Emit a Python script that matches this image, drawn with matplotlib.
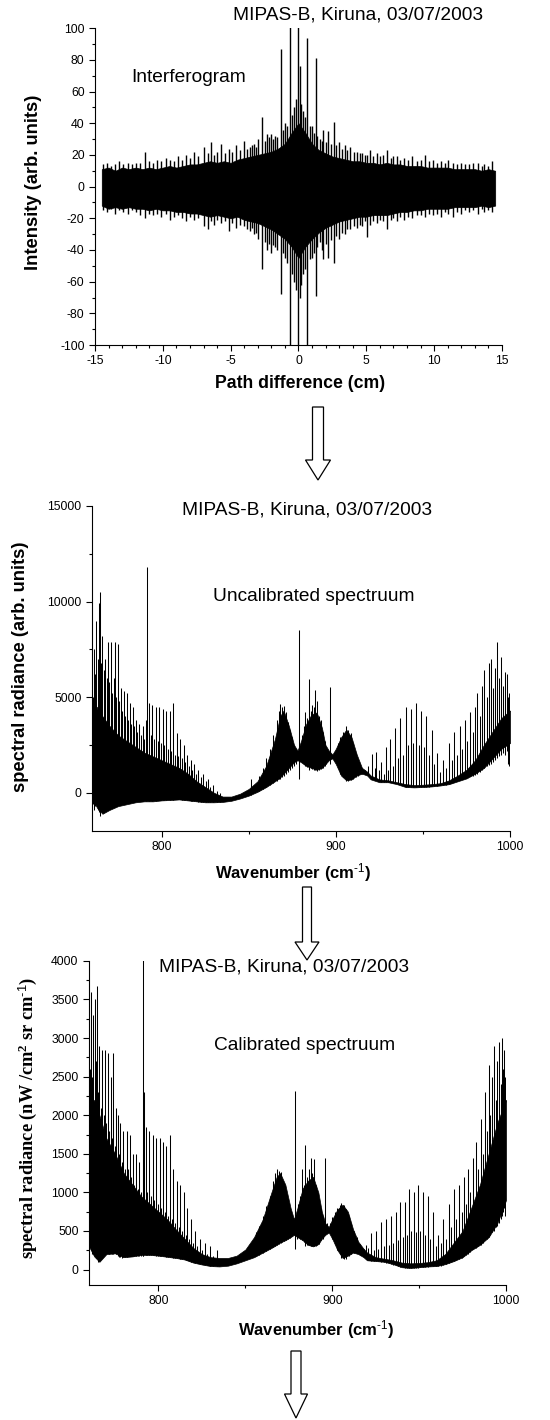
import numpy as np
import matplotlib
matplotlib.use("Agg")
import matplotlib.pyplot as plt
from matplotlib.patches import FancyArrow
from matplotlib.ticker import MultipleLocator

plt.rcParams["font.family"] = ["Liberation Sans", "DejaVu Sans"]
plt.rcParams["mathtext.fontset"] = "custom"
plt.rcParams["mathtext.rm"] = "Liberation Sans"
plt.rcParams["mathtext.default"] = "regular"
plt.rcParams["axes.unicode_minus"] = False

TITLE = "MIPAS-B, Kiruna, 03/07/2003"
NOTE_FS = 13.8
XLAB_FS = 12
YLAB_FS = 13.2
TICK_FS = 8.8

# ---- interferogram: envelope of the dense band (read every 0.5 cm) ----
ifg_x = [-14.5, -14, -13.5, -13, -12.5, -12, -11.5, -11, -10.5, -10, -9.5, -9,
         -8.5, -8, -7.5, -7, -6.5, -6, -5.5, -5, -4.5, -4, -3.5, -3, -2.5, -2,
         -1.5, -1, -0.5, 0, 0.5, 1, 1.5, 2, 2.5, 3, 3.5, 4, 4.5, 5, 5.5, 6,
         6.5, 7, 7.5, 8, 8.5, 9, 9.5, 10, 10.5, 11, 11.5, 12, 12.5, 13, 13.5,
         14, 14.5]
ifg_upper = [11, 12, 10, 12, 11, 12, 11, 12, 11, 12, 13, 12,
             13, 14, 14, 15, 16, 15, 16, 15, 17, 18, 19, 20, 21, 22,
             24, 27, 34, 40, 34, 27, 23, 21, 19, 18, 17, 16, 16, 15, 15, 14,
             15, 14, 14, 13, 13, 13, 12, 12, 12, 12, 11, 11, 11, 11, 10,
             11, 10]
ifg_lower = [-12, -14, -13, -14, -13, -14, -14, -15, -14, -15, -15, -16,
             -16, -17, -17, -18, -19, -18, -19, -20, -19, -21, -22, -23, -25, -27,
             -30, -33, -38, -45, -38, -33, -29, -26, -24, -22, -21, -20, -19, -19, -18, -18,
             -18, -17, -16, -16, -15, -15, -14, -14, -14, -14, -13, -13, -13, -13, -12,
             -13, -12]

# interferogram spikes: position, bottom, top
ifg_spk_x = [-14.4, -14.1, -13.8, -13.5, -13.2, -12.9, -12.6, -12.3, -12.0, -11.7,
             -11.3, -11.0, -10.7, -10.4, -10.1, -9.8, -9.5, -9.2, -8.9, -8.6,
             -8.3, -8.0, -7.7, -7.4, -7.0, -6.7, -6.45, -6.2, -6.0, -5.7,
             -5.4, -5.15, -4.9, -4.6, -4.3, -4.0, -3.8, -3.6, -3.4, -3.26,
             -3.1, -2.95, -2.7, -2.5, -2.35, -2.2, -2.0, -1.85, -1.72, -1.55,
             -1.31, -1.15, -1.0, -0.85, -0.65, -0.45, -0.3, -0.15, 0.0, 0.11,
             0.2, 0.3, 0.45, 0.65, 0.85, 1.0, 1.12, 1.26, 1.4, 1.55,
             1.7, 1.8, 2.0, 2.2, 2.4, 2.6, 2.8, 3.0, 3.2, 3.4,
             3.6, 3.83, 4.1, 4.3, 4.5, 4.7, 4.9, 5.05, 5.24, 5.5,
             5.8, 6.0, 6.2, 6.5, 6.8, 7.0, 7.25, 7.5, 7.8, 8.1,
             8.4, 8.7, 9.0, 9.3, 9.6, 9.9, 10.2, 10.5, 10.8, 11.0,
             11.4, 11.7, 12.0, 12.3, 12.6, 12.9, 13.2, 13.5, 13.7, 14.0,
             14.3]
ifg_spk_lo = [-15, -16, -14, -17, -15, -16, -17, -15, -16, -18,
              -20, -17, -18, -17, -19, -17, -21, -19, -18, -20,
              -22, -19, -21, -20, -25, -27, -22, -24, -21, -23,
              -22, -28, -23, -26, -24, -25, -27, -28, -26, -30,
              -29, -33, -52, -35, -40, -36, -42, -37, -38, -40,
              -68, -42, -45, -48, -110, -55, -60, -65, -110, -70,
              -62, -55, -52, -110, -46, -45, -42, -69, -38, -35,
              -40, -46, -36, -45, -34, -48, -31, -33, -29, -30,
              -27, -27, -25, -26, -24, -25, -22, -32, -24, -22,
              -23, -21, -22, -27, -21, -20, -22, -19, -21, -19,
              -20, -18, -18, -19, -17, -18, -17, -19, -16, -17,
              -19, -16, -17, -15, -16, -15, -17, -14, -16, -15,
              -16]
ifg_spk_hi = [14, 15, 13, 14, 16, 14, 15, 14, 15, 15,
              22, 16, 15, 17, 16, 18, 17, 16, 19, 17,
              20, 18, 22, 19, 25, 21, 28, 20, 22, 27,
              21, 24, 22, 26, 23, 29, 24, 25, 26, 27,
              25, 30, 44, 29, 33, 31, 33, 30, 32, 31,
              87, 36, 40, 38, 110, 45, 50, 55, 110, 76,
              52, 48, 44, 94, 38, 38, 34, 81, 32, 30,
              29, 36, 28, 35, 27, 41, 26, 28, 24, 26,
              23, 25, 22, 22, 21, 21, 20, 20, 23, 19,
              21, 19, 20, 23, 18, 19, 19, 17, 18, 17,
              19, 16, 17, 20, 16, 17, 15, 16, 15, 17,
              15, 14, 15, 14, 14, 15, 15, 13, 14, 13,
              16]

# ---- spectra: envelope knots of the dense band (cm-1) ----
spec_wn = [760, 763, 766, 770, 775, 780, 785, 790, 795, 800, 805, 810, 815, 820,
           825, 830, 835, 840, 845, 850, 855, 860, 865, 868, 870, 873, 876, 878,
           880, 883, 886, 889, 892, 894, 896, 898, 900, 903, 906, 909, 912, 915,
           918, 920, 925, 930, 935, 940, 945, 950, 955, 960, 965, 970, 975, 980,
           985, 990, 995, 1000]

unc_hi = [3500, 4500, 4000, 3500, 3000, 2700, 2400, 2100, 1900, 1700, 1500, 1300, 1000, 600,
          300, 0, -200, -200, -50, 200, 600, 1400, 2800, 4000, 4300, 3500, 2500, 2200,
          2700, 3600, 4100, 4200, 3400, 2500, 2200, 2000, 2300, 2900, 3300, 2900, 2000, 1300,
          1100, 900, 700, 650, 550, 450, 400, 420, 450, 500, 650, 900, 1200, 1700,
          2500, 3200, 3900, 4300]
unc_lo = [-300, -800, -1100, -900, -700, -600, -500, -450, -450, -400, -380, -350, -400, -450,
          -500, -500, -480, -420, -300, -150, 50, 300, 600, 800, 1000, 1300, 1600, 1700,
          1600, 1400, 1300, 1200, 1300, 1500, 1700, 1800, 1500, 900, 650, 700, 900, 1000,
          900, 700, 550, 550, 450, 300, 280, 300, 330, 380, 450, 600, 750, 1000,
          1300, 1800, 2300, 2600]

# uncalibrated spectrum: individual lines (position, bottom, top)
unc_spk_wn = [760.4, 761.0, 761.8, 762.5, 763.2, 763.8, 764.6, 765.3, 766.0, 766.8,
              767.6, 768.4, 769.2, 770.0, 770.8, 771.6, 772.4, 773.2, 774.0, 774.8,
              775.6, 776.5, 777.3, 778.1, 779.0, 779.8, 780.7, 781.6, 782.5, 783.4,
              784.3, 785.2, 786.1, 787.0, 788.0, 789.0, 790.0, 790.8, 791.6, 792.6,
              793.6, 794.6, 795.6, 796.6, 797.6, 798.6, 799.6, 800.6, 801.6, 802.6,
              803.6, 804.6, 805.6, 806.6, 807.6, 808.6, 809.6, 810.6, 811.6, 812.6,
              813.6, 814.6, 815.6, 816.6, 817.6, 818.6, 819.6, 821.0, 822.4, 823.8,
              825.2, 826.6, 828.0, 829.6, 831.5, 833.5, 851.0,
              856.0, 858.0, 860.0, 862.0, 864.0, 866.0, 867.2, 868.2, 869.2, 870.3,
              871.3, 872.4, 873.5, 874.6, 875.7, 877.0, 879.1, 880.5, 881.5, 882.5,
              883.5, 884.5, 885.5, 886.5, 887.4, 888.3, 889.3, 890.3, 891.3, 892.5,
              893.5, 894.6, 896.4, 898.0, 899.5, 901.0, 902.5, 904.0, 905.6, 907.0,
              908.5, 910.0, 911.5, 913.0, 915.0, 917.0,
              918.5, 920.9, 922.2, 923.3, 924.8, 926.2, 927.6, 929.0, 930.2, 931.3,
              932.6, 934.0, 935.4, 937.0, 938.4, 940.0, 941.5, 943.0, 944.5, 946.0,
              947.5, 949.0, 950.5, 952.0, 953.5, 955.0, 956.5, 958.0, 959.8, 961.5,
              963.2, 965.0, 966.5, 968.0, 969.5, 971.0, 972.5, 974.0, 975.5, 977.0,
              978.5, 980.0, 981.0, 982.5, 984.0, 985.0, 986.5, 988.0, 989.0, 990.5,
              991.5, 992.5, 993.5, 995.0, 996.0, 997.0, 998.0, 999.0, 999.7]
unc_spk_lo = [-600, -900, -700, -600, -900, -1000, -1200, -800, -1000, -700,
              -800, -600, -700, -800, -600, -700, -600, -700, -600, -650,
              -600, -500, -600, -550, -500, -550, -500, -450, -500, -450,
              -500, -450, -450, -450, -400, -450, -400, -450, -400, -450,
              -400, -420, -400, -420, -400, -400, -380, -400, -380, -380,
              -350, -370, -350, -360, -350, -350, -340, -350, -360, -370,
              -380, -380, -400, -420, -430, -450, -450, -470, -480, -490,
              -500, -500, -500, -500, -480, -470, -100,
              100, 200, 300, 400, 500, 600, 700, 700, 800, 900,
              1000, 1100, 1200, 1300, 1400, 1500, 730, 1600, 1500, 1400,
              1350, 1200, 1300, 1250, 1200, 1200, 1150, 1200, 1250, 1300,
              1400, 1500, 1500, 1800, 1700, 1300, 1000, 800, 600, 600,
              650, 700, 800, 900, 1000, 1000,
              1000, 700, 650, 650, 600, 550, 550, 550, 550, 550,
              520, 500, 470, 450, 400, 320, 300, 300, 290, 280,
              285, 290, 300, 300, 310, 330, 340, 360, 380, 400,
              420, 450, 500, 550, 600, 650, 700, 750, 800, 850,
              900, 950, 1000, 1100, 1200, 1300, 1400, 1450, 1500, 1600,
              1700, 1800, 1900, 2000, 2100, 2000, 2200, 1500, 1400]
unc_spk_hi = [5000, 7500, 6200, 9000, 7000, 9900, 10500, 6800, 8200, 6400,
              7000, 6000, 7900, 5800, 7900, 5200, 6000, 7900, 5000, 7800,
              4800, 5500, 4300, 5300, 4000, 5200, 3800, 4700, 3600, 4500,
              3500, 3800, 3200, 3600, 3000, 3500, 2800, 3800, 11800, 4700,
              3000, 4600, 2800, 4500, 2700, 4500, 2600, 4400, 2500, 4300,
              2300, 4300, 2200, 4700, 2000, 3100, 1900, 2800, 1800, 2500,
              1600, 2000, 1400, 1700, 1200, 1500, 1000, 1200, 800, 1000,
              600, 700, 300, 400, 100, 0, 700,
              900, 1300, 1800, 2300, 3000, 3800, 4300, 4650, 4500, 4550,
              4200, 3700, 3300, 2900, 2500, 2300, 8500, 3000, 3500, 4200,
              3900, 5960, 4300, 4600, 4500, 5350, 4800, 4000, 3800, 3200,
              2700, 2400, 5530, 2000, 2100, 2600, 2900, 3200, 3470, 3300,
              3100, 2600, 2100, 1600, 1300, 1200,
              1400, 2040, 1300, 2130, 1200, 1600, 1000, 2400, 1200, 2800,
              1400, 3400, 1800, 3900, 2000, 4500, 2500, 4400, 2600, 4700,
              2500, 4300, 2400, 4000, 2000, 3300, 1500, 2100, 1100, 1700,
              1300, 2600, 1700, 3200, 2000, 3500, 2300, 3800, 2700, 4200,
              3200, 4500, 5200, 4000, 5600, 6400, 5000, 6800, 7000, 5500,
              6500, 7900, 6000, 7100, 5600, 6300, 6200, 5000, 5200]

cal_hi = [2000, 2200, 2000, 1700, 1500, 1250, 1100, 950, 850, 750, 650, 520, 400, 280,
          200, 160, 150, 150, 180, 260, 420, 650, 1000, 1200, 1250, 1100, 800, 650,
          800, 1050, 1150, 1200, 1000, 750, 600, 550, 650, 780, 840, 750, 520, 360,
          270, 220, 160, 140, 120, 90, 80, 85, 95, 120, 200, 350, 500, 800,
          1100, 1500, 1900, 2200]
cal_lo = [300, 170, 100, 200, 210, 160, 170, 190, 190, 180, 165, 150, 130, 90,
          65, 45, 40, 50, 80, 120, 160, 220, 280, 320, 350, 380, 420, 450,
          420, 380, 320, 300, 330, 400, 450, 480, 400, 250, 150, 180, 220, 200,
          160, 120, 110, 100, 70, 30, 20, 30, 40, 45, 70, 110, 160, 250,
          320, 420, 600, 900]

# calibrated spectrum: individual lines (position, bottom, top)
cal_spk_wn = [760.4, 761.0, 761.8, 762.5, 763.2, 763.8, 764.4, 765.2, 766.0, 766.8,
              767.6, 768.4, 769.2, 770.0, 770.8, 771.6, 772.4, 773.2, 774.0, 774.8,
              775.6, 776.5, 777.3, 778.1, 779.0, 779.8, 780.7, 781.6, 782.5, 783.4,
              784.3, 785.2, 786.1, 787.0, 788.0, 789.0, 790.0, 790.8, 791.2, 791.7,
              792.6, 793.6, 794.6, 795.6, 796.6, 797.6, 798.6, 799.6, 800.6, 801.6,
              802.6, 803.6, 804.6, 805.6, 806.6, 807.6, 808.6, 809.6, 810.6, 811.6,
              812.6, 813.6, 814.6, 815.6, 816.6, 817.6, 818.6, 819.6, 821.0, 822.4,
              823.8, 825.2, 826.6, 828.0, 829.6, 831.5, 833.5,
              856.0, 858.0, 860.0, 862.0, 864.0, 866.0, 867.2, 868.2, 869.2, 870.3,
              871.3, 872.4, 873.5, 874.6, 875.7, 877.0, 878.3, 879.5, 880.5, 881.5,
              882.5, 883.5, 884.6, 885.5, 886.5, 887.5, 888.5, 889.5, 890.5, 891.5,
              892.5, 893.5, 894.6, 896.0, 897.2, 898.5, 900.0, 901.5, 903.0, 904.2,
              905.3, 906.5, 908.0, 909.5, 911.0, 912.5, 914.0, 916.0, 918.0,
              919.5, 920.7, 922.5, 923.8, 925.0, 926.5, 928.0, 929.5, 931.0, 932.5,
              934.0, 935.2, 936.5, 937.8, 939.0, 940.5, 942.0, 943.0, 944.0, 945.5,
              947.0, 948.2, 949.4, 950.7, 952.0, 953.5, 955.0, 956.5, 958.0, 959.5,
              961.0, 962.5, 964.0, 965.5, 967.0, 968.5, 970.0, 971.5, 973.0, 974.5,
              976.0, 977.0, 978.0, 979.5, 981.0, 982.5, 984.0, 985.5, 986.8, 988.0,
              989.0, 990.0, 991.0, 992.0, 993.0, 994.0, 995.0, 996.0, 997.0, 997.5,
              998.3, 999.0, 999.6]
cal_spk_lo = [300, 250, 200, 200, 170, 150, 150, 100, 110, 180,
              200, 220, 220, 200, 210, 200, 210, 200, 200, 210,
              200, 180, 160, 160, 150, 160, 160, 160, 170, 170,
              170, 170, 170, 175, 180, 180, 180, 180, 180, 200,
              190, 190, 190, 190, 190, 185, 180, 180, 180, 175,
              170, 170, 165, 165, 160, 160, 155, 150, 150, 145,
              140, 135, 130, 125, 120, 110, 100, 95, 90, 80,
              75, 70, 65, 55, 50, 45, 40,
              170, 190, 220, 240, 260, 290, 300, 320, 330, 350,
              360, 370, 380, 400, 410, 430, 260, 400, 420, 400,
              380, 360, 300, 320, 320, 300, 300, 300, 310, 320,
              330, 380, 400, 500, 480, 470, 400, 330, 250, 200,
              150, 140, 130, 180, 200, 220, 210, 190, 160,
              130, 120, 110, 110, 110, 105, 100, 95, 90, 80,
              75, 65, 60, 45, 35, 30, 25, 22, 20, 20,
              20, 22, 25, 28, 30, 32, 35, 40, 45, 45,
              45, 50, 60, 70, 80, 95, 110, 125, 140, 155,
              170, 185, 200, 230, 260, 280, 300, 320, 350, 380,
              400, 420, 450, 480, 500, 550, 570, 600, 650, 700,
              750, 800, 700]
cal_spk_hi = [2600, 3600, 2500, 3300, 3500, 2700, 3680, 2300, 2900, 2100,
              2850, 2000, 2850, 1900, 2800, 1800, 2500, 1700, 2800, 1600,
              2100, 2000, 1500, 1900, 1400, 1800, 1300, 1800, 1300, 1750,
              1200, 1500, 1100, 1500, 1050, 1400, 1000, 1500, 4100, 2300,
              1850, 1000, 1800, 950, 1750, 900, 1700, 850, 1700, 800,
              1650, 750, 1600, 700, 1750, 650, 1300, 600, 1150, 550,
              1100, 500, 1000, 450, 800, 400, 650, 350, 500, 300,
              400, 250, 350, 200, 300, 180, 250,
              480, 560, 700, 820, 950, 1150, 1250, 1300, 1280, 1260,
              1150, 1050, 950, 850, 750, 700, 2310, 750, 850, 950,
              1300, 1100, 1620, 1200, 1300, 1450, 1250, 1430, 1100, 1000,
              900, 800, 700, 1450, 600, 600, 680, 740, 800, 840,
              860, 830, 780, 700, 600, 500, 420, 330, 270,
              320, 280, 470, 250, 500, 260, 620, 300, 650, 320,
              700, 350, 750, 380, 870, 420, 870, 450, 1050, 500,
              1000, 480, 1100, 500, 1000, 450, 950, 400, 750, 300,
              450, 350, 650, 400, 850, 550, 1050, 650, 1100, 750,
              1200, 850, 1300, 1000, 1450, 1650, 1300, 1950, 1500, 2300,
              1800, 2650, 2000, 2500, 2900, 2200, 2700, 2950, 2400, 3000,
              2600, 2850, 2500]


def style_axes(ax):
    for s in ("top", "right"):
        ax.spines[s].set_visible(False)
    for s in ("left", "bottom"):
        ax.spines[s].set_linewidth(0.8)
    ax.tick_params(which="major", direction="out", length=4, width=0.8, labelsize=TICK_FS)
    ax.tick_params(which="minor", direction="out", length=2.5, width=0.8)


def draw_band(ax, x, lo, hi, sx, slo, shi, lw=0.75):
    ax.fill_between(x, lo, hi, color="black", lw=0.5)
    ax.vlines(sx, slo, shi, color="black", lw=lw)


def note(ax, x, y, s, **kw):
    ax.text(x, y, s, transform=ax.transAxes, ha="center", va="center", **kw)


WAVENUMBER = r"Wavenumber (cm$^{\text{-1}}$)"

fig = plt.figure(figsize=(5.5, 14.2), dpi=100)

# panel 1 : interferogram
ax1 = fig.add_axes([0.1727, 0.7570, 0.740, 0.2232])
draw_band(ax1, ifg_x, ifg_lower, ifg_upper, ifg_spk_x, ifg_spk_lo, ifg_spk_hi, lw=1.0)
ax1.set_xlim(-15, 15)
ax1.set_ylim(-100, 100)
ax1.xaxis.set_major_locator(MultipleLocator(5))
ax1.xaxis.set_minor_locator(MultipleLocator(1))
ax1.yaxis.set_major_locator(MultipleLocator(20))
ax1.yaxis.set_minor_locator(MultipleLocator(10))
style_axes(ax1)
note(ax1, 0.646, 1.041, TITLE, fontsize=NOTE_FS)
note(ax1, 0.231, 0.845, "Interferogram", fontsize=NOTE_FS)
note(ax1, 0.503, -0.12, "Path difference (cm)", fontsize=12.7, fontweight="bold")
note(ax1, -0.152, 0.514, "Intensity (arb. units)", rotation=90,
     fontsize=YLAB_FS, fontweight="bold")

# panel 2 : uncalibrated spectrum
ax2 = fig.add_axes([0.1673, 0.4148, 0.760, 0.2289])
draw_band(ax2, spec_wn, unc_lo, unc_hi, unc_spk_wn, unc_spk_lo, unc_spk_hi)
ax2.set_xlim(760, 1000)
ax2.set_ylim(-2000, 15000)
ax2.xaxis.set_major_locator(MultipleLocator(100))
ax2.xaxis.set_minor_locator(MultipleLocator(50))
ax2.yaxis.set_major_locator(MultipleLocator(5000))
ax2.yaxis.set_minor_locator(MultipleLocator(2500))
style_axes(ax2)
note(ax2, 0.514, 0.986, TITLE, fontsize=NOTE_FS)
note(ax2, 0.531, 0.721, "Uncalibrated spectruum", fontsize=NOTE_FS)
note(ax2, 0.48, -0.129, WAVENUMBER, fontsize=XLAB_FS, fontweight="bold")
note(ax2, -0.172, 0.505, "spectral radiance (arb. units)", rotation=90,
     fontsize=YLAB_FS, fontweight="bold")

# panel 3 : calibrated spectrum
ax3 = fig.add_axes([0.1618, 0.0951, 0.7582, 0.2282])
draw_band(ax3, spec_wn, cal_lo, cal_hi, cal_spk_wn, cal_spk_lo, cal_spk_hi)
ax3.set_xlim(760, 1000)
ax3.set_ylim(-200, 4000)
ax3.xaxis.set_major_locator(MultipleLocator(100))
ax3.xaxis.set_minor_locator(MultipleLocator(50))
ax3.yaxis.set_major_locator(MultipleLocator(500))
ax3.yaxis.set_minor_locator(MultipleLocator(250))
style_axes(ax3)
note(ax3, 0.468, 0.982, TITLE, fontsize=NOTE_FS)
note(ax3, 0.518, 0.739, "Calibrated spectruum", fontsize=NOTE_FS)
note(ax3, 0.545, -0.139, WAVENUMBER, fontsize=XLAB_FS, fontweight="bold")
note(ax3, -0.146, 0.515, r"spectral radiance (nW /cm$^{2}$ sr cm$^{\text{-1}}$)", rotation=90,
     fontsize=YLAB_FS, fontweight="bold", family=["Liberation Serif", "DejaVu Serif"])

# hollow arrows between the panels, in pixel coordinates of the page
ov = fig.add_axes([0, 0, 1, 1])
ov.set_xlim(0, 550)
ov.set_ylim(1420, 0)
ov.axis("off")
for (cx, y0, y1, w, hw, hl) in [(318, 407, 480, 11, 25, 20),
                                (307, 887, 960, 9, 24, 18),
                                (296, 1351, 1418, 10, 23, 24)]:
    ov.add_patch(FancyArrow(cx, y0, 0, y1 - y0, width=w, head_width=hw, head_length=hl,
                            length_includes_head=True, fc="white", ec="black", lw=0.9))

fig.savefig("out.png", dpi=100, facecolor="white")
